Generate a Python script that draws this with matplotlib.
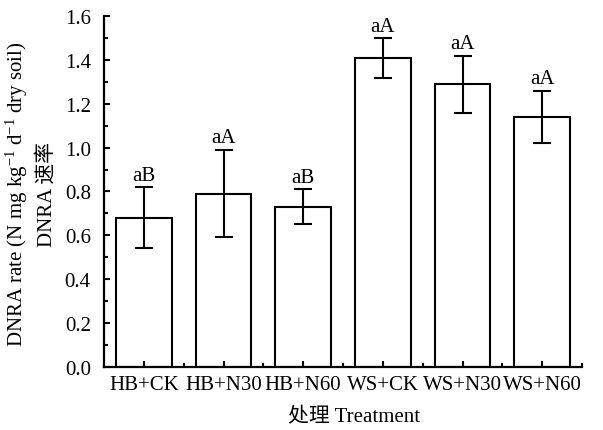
import matplotlib
matplotlib.use('Agg')
import matplotlib.pyplot as plt
from matplotlib.ticker import MultipleLocator, FixedLocator, FormatStrFormatter

treatments = ['HB+CK', 'HB+N30', 'HB+N60', 'WS+CK', 'WS+N30', 'WS+N60']
rate = [0.68, 0.79, 0.73, 1.41, 1.29, 1.14]
err = [0.14, 0.20, 0.08, 0.09, 0.13, 0.12]
letters = ['aB', 'aA', 'aB', 'aA', 'aA', 'aA']

plt.rcParams['font.family'] = ['Liberation Serif', 'Noto Sans CJK SC']
plt.rcParams['font.size'] = 15
plt.rcParams['mathtext.fontset'] = 'custom'
plt.rcParams['mathtext.rm'] = 'Liberation Serif'
plt.rcParams['mathtext.it'] = 'Liberation Serif'

fig = plt.figure(figsize=(6.03, 4.31), dpi=100)
ax = fig.add_axes([0.1725, 0.1473, 0.7927, 0.8126])

x = list(range(len(treatments)))
ax.bar(x, rate, width=0.70, color='white', edgecolor='black', linewidth=1.5)
ax.errorbar(x, rate, yerr=err, fmt='none', ecolor='black', elinewidth=1.5,
            capsize=6.5, capthick=1.5)
for i in x:
    ax.text(i, rate[i] + err[i] + 0.034, letters[i], ha='center', va='baseline',
            fontsize=15)

ax.set_xlim(-0.5, 5.5)
ax.set_ylim(0, 1.6)
ax.set_xticks(x)
ax.set_xticklabels(treatments)
ax.xaxis.set_minor_locator(FixedLocator([0.5, 1.5, 2.5, 3.5, 4.5, 5.5]))
ax.yaxis.set_major_locator(MultipleLocator(0.2))
ax.yaxis.set_minor_locator(MultipleLocator(0.1))
ax.yaxis.set_major_formatter(FormatStrFormatter('%.1f'))

ax.tick_params(axis='y', which='major', direction='in', length=4.3, width=1.5,
               labelsize=15, pad=9.5)
ax.tick_params(axis='x', which='major', direction='in', length=4.3, width=1.5,
               labelsize=15, pad=6)
ax.tick_params(axis='both', which='minor', direction='in', length=2.6, width=1.5)

for s in ['top', 'right']:
    ax.spines[s].set_visible(False)
for s in ['left', 'bottom']:
    ax.spines[s].set_linewidth(1.6)

# axis titles
fig.text(354 / 603, 1 - 418 / 431, '处理 Treatment', fontsize=15,
         ha='center', va='center')
fig.text(16.5 / 603, 0.549, 'DNRA rate (N mg kg$^{\\mathrm{-1}}$ d$^{\\mathrm{-1}}$ dry soil)',
         fontsize=15, rotation=90, ha='center', va='center')
fig.text(47 / 603, 0.55, 'DNRA 速率', fontsize=15, rotation=90,
         ha='center', va='center')

fig.savefig('out.png', dpi=100)
